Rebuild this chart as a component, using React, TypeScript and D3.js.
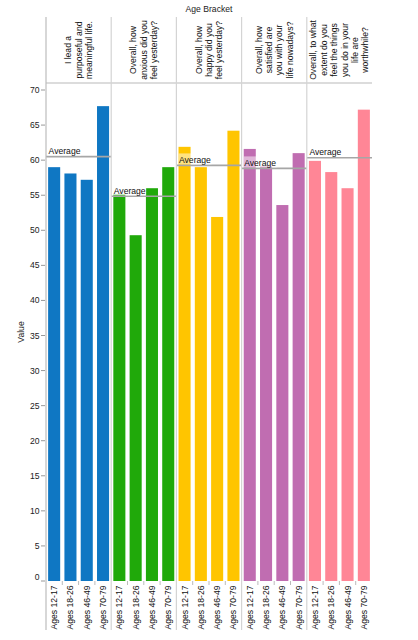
import React, { useRef, useEffect } from "react";
import * as d3 from "d3";

// Facet columns (question wording, already broken into lines)
const questions: string[][] = [
  ["I lead a", "purposeful and", "meaningful life."],
  ["Overall, how", "anxious did you", "feel yesterday?"],
  ["Overall, how", "happy did you", "feel yesterday?"],
  ["Overall, how", "satisfied are", "you with your", "life nowadays?"],
  ["Overall, to what", "extent do you", "feel the things", "you do in your", "life are", "worthwhile?"],
];

const ageBrackets = ["Ages 12-17", "Ages 18-26", "Ages 46-49", "Ages 70-79"];

const purposefulValues = [59.0, 58.1, 57.2, 67.7];
const anxiousValues = [55.1, 49.3, 56.0, 59.0];
const happyValues = [61.9, 59.0, 51.9, 64.2];
const satisfiedValues = [61.6, 59.1, 53.6, 61.0];
const worthwhileValues = [59.9, 58.3, 56.0, 67.2];

const seriesValues = [purposefulValues, anxiousValues, happyValues, satisfiedValues, worthwhileValues];
const colors = ["#0f77c3", "#20a90a", "#ffc500", "#c06db1", "#ff8696"];

const yTicks = d3.range(0, 71, 5);

const FONT = "'Liberation Sans', Arial, sans-serif";
const FS = 8.6;

export default function App() {
  const svgRef = useRef<SVGSVGElement>(null);

  useEffect(() => {
    if (!svgRef.current) return;
    const svg = d3.select(svgRef.current);
    svg.selectAll("*").remove();

    const left = 46;
    const right = 372;
    const top = 83;
    const bottom = 581;
    const headerTop = 17;
    const footBottom = 630;

    const panelScale = d3.scaleBand<number>()
      .domain(d3.range(questions.length))
      .range([left, right]);
    const panelW = panelScale.bandwidth();

    const x = d3.scaleBand<string>()
      .domain(ageBrackets)
      .range([0, panelW])
      .paddingInner(0.26)
      .paddingOuter(0.13);

    const y = d3.scaleLinear().domain([0, 71]).range([bottom, top]);

    // title
    svg.append("text")
      .attr("x", (left + right) / 2)
      .attr("y", 12)
      .attr("text-anchor", "middle")
      .style("font-family", FONT)
      .style("font-size", `${FS}px`)
      .style("fill", "#222")
      .text("Age Bracket");

    // header bottom / plot top line
    svg.append("line")
      .attr("x1", left).attr("x2", right)
      .attr("y1", top).attr("y2", top)
      .attr("stroke", "#dcdcdc")
      .attr("stroke-width", 2);

    questions.forEach((lines, i) => {
      const px = panelScale(i) || 0;
      const cx = px + panelW / 2;
      const vals = seriesValues[i];
      const avg = d3.mean(vals) || 0;
      const g = svg.append("g").attr("transform", `translate(${px},0)`);

      // header label
      const lh = 10.4;
      lines.forEach((ln, j) => {
        const lx = panelW / 2 + (j - (lines.length - 1) / 2) * lh;
        g.append("text")
          .attr("transform", `translate(${lx},50) rotate(-90)`)
          .attr("text-anchor", "middle")
          .attr("dy", "0.35em")
          .style("font-family", FONT)
          .style("font-size", `${FS}px`)
          .style("fill", "#111")
          .text(ln);
      });

      // bars
      g.selectAll(".bar")
        .data(vals)
        .enter()
        .append("rect")
        .attr("x", (_d, k) => x(ageBrackets[k]) || 0)
        .attr("width", x.bandwidth())
        .attr("y", d => y(d))
        .attr("height", d => bottom - y(d))
        .attr("fill", colors[i]);

      // average rule
      const ay = y(avg);
      g.append("line")
        .attr("x1", 0).attr("x2", panelW)
        .attr("y1", ay).attr("y2", ay)
        .attr("stroke", "#a6a6a6")
        .attr("stroke-width", 1.6);

      const label = g.append("text")
        .attr("x", 2.6)
        .attr("y", ay - 2.6)
        .style("font-family", FONT)
        .style("font-size", `${FS}px`)
        .style("fill", "#111")
        .text("Average");
      const tw = (label.node() as SVGTextElement).getComputedTextLength();
      g.insert("rect", "text:last-child")
        .attr("x", 2.2)
        .attr("y", ay - 12)
        .attr("width", tw + 1)
        .attr("height", 11)
        .attr("fill", "#fff")
        .attr("opacity", 0.5);

      // band ticks between bars
      const step = x.step();
      ageBrackets.slice(1).forEach((a) => {
        const tx = (x(a) || 0) - (step - x.bandwidth()) / 2;
        g.append("line")
          .attr("x1", tx).attr("x2", tx)
          .attr("y1", bottom).attr("y2", bottom + 4)
          .attr("stroke", "#bbb")
          .attr("stroke-width", 1);
      });

      // age labels
      ageBrackets.forEach((a) => {
        const bx = (x(a) || 0) + x.bandwidth() / 2;
        g.append("text")
          .attr("transform", `translate(${bx},${bottom + 4.5}) rotate(-90)`)
          .attr("text-anchor", "end")
          .attr("dy", "0.35em")
          .style("font-family", FONT)
          .style("font-size", `${FS}px`)
          .style("fill", "#111")
          .text(a);
      });

      // panel separator
      svg.append("line")
        .attr("x1", px).attr("x2", px)
        .attr("y1", headerTop).attr("y2", footBottom)
        .attr("stroke", i === 0 ? "#bdbdbd" : "#d4d4d4")
        .attr("stroke-width", 1.2);
    });

    // y axis
    const ya = svg.append("g");
    yTicks.forEach((t) => {
      ya.append("line")
        .attr("x1", 41).attr("x2", 45)
        .attr("y1", y(t)).attr("y2", y(t))
        .attr("stroke", "#999")
        .attr("stroke-width", 1);
      ya.append("text")
        .attr("x", 39.5)
        .attr("y", y(t))
        .attr("dy", t === 0 ? "-0.15em" : "0.35em")
        .attr("text-anchor", "end")
        .style("font-family", FONT)
        .style("font-size", `${FS}px`)
        .style("fill", "#222")
        .text(String(t));
    });

    svg.append("text")
      .attr("transform", `translate(21,${(top + bottom) / 2}) rotate(-90)`)
      .attr("text-anchor", "middle")
      .attr("dy", "0.35em")
      .style("font-family", FONT)
      .style("font-size", `${FS}px`)
      .style("fill", "#222")
      .text("Value");
  }, []);

  return (
    <svg
      ref={svgRef}
      width={418}
      height={640}
      style={{ position: "absolute", left: 0, top: 0, background: "#fff" }}
    />
  );
}
